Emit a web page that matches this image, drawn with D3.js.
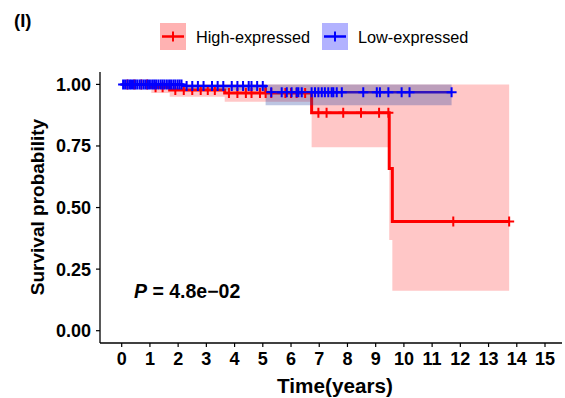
<!DOCTYPE html>
<html><head><meta charset="utf-8">
<script src="https://cdn.jsdelivr.net/npm/d3@7"></script>
<style>body{margin:0;background:#fff}svg{display:block}text{font-family:"Liberation Sans",Arial,sans-serif}</style>
</head><body><svg id="c" width="565" height="398"></svg>
<script>
// ---- data ----
const groups = ["High-expressed", "Low-expressed"];
const highTimes = [0, 1.05, 1.7, 3.65, 6.73, 9.48, 9.59];
const highSurv  = [1, 0.988, 0.977, 0.965, 0.885, 0.659, 0.443];
const highLower = [1, 0.965, 0.95, 0.93, 0.745, 0.368, 0.162];
const highUpper = [1, 1, 1, 1, 1, 1, 1];
const highEnd = 13.73;
const highCensor = [0.2, 0.45, 0.7, 0.9, 1.2, 1.45, 1.9, 2.2, 2.5, 2.8, 3.05, 3.3, 3.8, 4.1, 4.4, 4.6, 4.9, 5.1, 5.3, 5.8, 6.0, 6.2, 6.5,
  6.97, 7.26, 7.85, 8.48, 9.12, 9.45, 11.75, 13.73];

const lowTimes = [0, 2.15, 5.1];
const lowSurv  = [1, 0.993, 0.968];
const lowLower = [1, 0.975, 0.915];
const lowUpper = [1, 1, 1];
const lowEnd = 11.69;
const lowCensor = [0.05, 0.12, 0.2, 0.27, 0.33, 0.4, 0.48, 0.55, 0.63, 0.7, 0.78, 0.85, 0.93, 1.0, 1.08, 1.15, 1.22, 1.3, 1.38, 1.45, 1.52, 1.6, 1.68, 1.75, 1.83, 1.9, 1.98, 2.05, 2.12,
  2.3, 2.5, 2.7, 2.9, 3.2, 3.4, 3.6, 3.9, 4.1, 4.3, 4.5, 4.6, 4.8, 5.0,
  5.3, 5.67, 5.85, 6.02, 6.2, 6.26, 6.38, 6.73, 6.85, 6.97, 7.09, 7.2, 7.32, 7.44, 7.5, 7.62, 7.8, 8.56, 9.04, 9.15, 9.45, 9.92, 10.2, 11.69];

const xTicks = [0,1,2,3,4,5,6,7,8,9,10,11,12,13,14,15];
const yTicks = [0, 0.25, 0.5, 0.75, 1];
const pText = "4.8e\u221202";

// ---- layout ----
const svg = d3.select("#c");
const L = 100, R = 562, T = 72, B = 343;
const x = d3.scaleLinear().domain([0, 15]).range([121.7, 545]);
const y = d3.scaleLinear().domain([0, 1]).range([330.7, 84.4]);
const colors = {"High-expressed": "#ff0000", "Low-expressed": "#0000ff"};
const bandFill = {"High-expressed": ["#ff0000", 0.22], "Low-expressed": ["#2040a0", 0.3]};

function build(times, surv, lower, upper, end) {
  const pts = times.map((t, i) => ({t, s: surv[i], lo: lower[i], hi: upper[i]}));
  const last = pts[pts.length - 1];
  pts.push({t: end, s: last.s, lo: last.lo, hi: last.hi});
  return pts;
}
const series = [
  {name: groups[0], pts: build(highTimes, highSurv, highLower, highUpper, highEnd), censor: highCensor, times: highTimes, surv: highSurv},
  {name: groups[1], pts: build(lowTimes, lowSurv, lowLower, lowUpper, lowEnd), censor: lowCensor, times: lowTimes, surv: lowSurv}
];
function survAt(sr, t) {
  let s = 1;
  sr.times.forEach((tt, i) => { if (tt <= t) s = sr.surv[i]; });
  return s;
}

// lines
const line = d3.line().x(d => x(d.t)).y(d => y(d.s)).curve(d3.curveStepAfter);
series.forEach(sr => {
  svg.append("path").attr("d", line(sr.pts)).attr("fill", "none")
    .attr("stroke", colors[sr.name]).attr("stroke-width", sr.name === groups[0] ? 3 : 2.5);
});
// bands
const area = d3.area().x(d => x(d.t)).y0(d => y(d.lo)).y1(d => y(d.hi)).curve(d3.curveStepAfter);
series.forEach(sr => {
  svg.append("path").attr("d", area(sr.pts)).attr("fill", bandFill[sr.name][0])
    .attr("fill-opacity", bandFill[sr.name][1]);
});
// censors
series.forEach(sr => {
  const g = svg.append("g").attr("stroke", colors[sr.name]).attr("stroke-width", 2);
  sr.censor.forEach(t => {
    const cx = x(t), cy = y(survAt(sr, t));
    g.append("path").attr("d", `M${cx-5},${cy}H${cx+5}M${cx},${cy-5}V${cy+5}`);
  });
});

// axes
svg.append("line").attr("x1", L).attr("x2", L).attr("y1", T).attr("y2", B).attr("stroke", "#000").attr("stroke-width", 1.3);
svg.append("line").attr("x1", L).attr("x2", R).attr("y1", B).attr("y2", B).attr("stroke", "#000").attr("stroke-width", 1.3);
yTicks.forEach(v => {
  svg.append("line").attr("x1", L - 4).attr("x2", L).attr("y1", y(v)).attr("y2", y(v)).attr("stroke", "#000").attr("stroke-width", 1.2);
  svg.append("text").attr("x", 91).attr("y", y(v) + 6.4).attr("text-anchor", "end")
    .attr("font-size", 18).attr("font-weight", "bold").text(d3.format(".2f")(v));
});
xTicks.forEach(v => {
  svg.append("line").attr("x1", x(v)).attr("x2", x(v)).attr("y1", B).attr("y2", B + 4).attr("stroke", "#000").attr("stroke-width", 1.2);
  svg.append("text").attr("x", x(v)).attr("y", 365).attr("text-anchor", "middle")
    .attr("font-size", 18).attr("font-weight", "bold").text(v);
});
svg.append("text").attr("x", 335).attr("y", 393).attr("text-anchor", "middle")
  .attr("font-size", 20.7).attr("font-weight", "bold").text("Time(years)");
svg.append("text").attr("transform", "translate(44,207) rotate(-90)").attr("text-anchor", "middle")
  .attr("font-size", 19).attr("font-weight", "bold").text("Survival probability");

// p-value
const pt = svg.append("text").attr("x", 134).attr("y", 298).attr("font-size", 19.5).attr("font-weight", "bold");
pt.append("tspan").attr("font-style", "italic").text("P");
pt.append("tspan").text(" = " + pText);

// title tag
svg.append("text").attr("x", 14).attr("y", 27).attr("font-size", 18.5).attr("font-weight", "bold").text("(I)");

// legend
const legX = [160, 322];
groups.forEach((gname, i) => {
  const g = svg.append("g").attr("transform", `translate(${legX[i]},23)`);
  g.append("rect").attr("width", 26).attr("height", 27).attr("fill", colors[gname]).attr("fill-opacity", 0.3);
  g.append("line").attr("x1", 2).attr("x2", 24).attr("y1", 13.5).attr("y2", 13.5).attr("stroke", colors[gname]).attr("stroke-width", 2.5);
  g.append("line").attr("x1", 13).attr("x2", 13).attr("y1", 8.5).attr("y2", 18.5).attr("stroke", colors[gname]).attr("stroke-width", 2);
  g.append("text").attr("x", 36).attr("y", 20).attr("font-size", 16.3).text(gname);
});
</script></body></html>
